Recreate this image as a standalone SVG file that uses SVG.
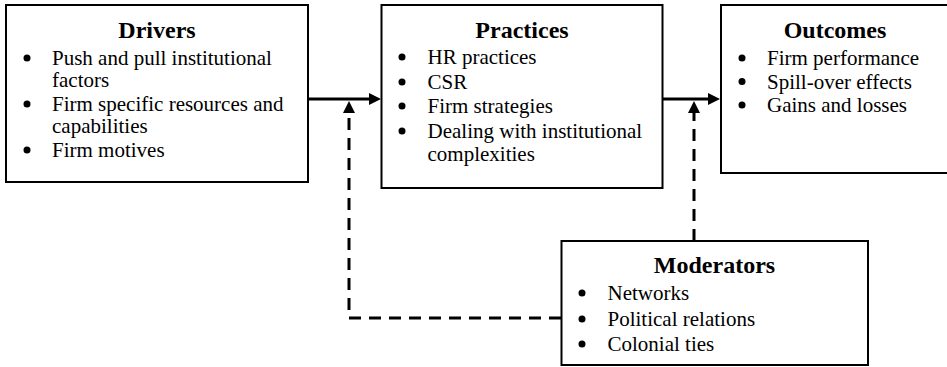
<svg xmlns="http://www.w3.org/2000/svg" width="947" height="367" viewBox="0 0 947 367">
<style>
  .box { fill: #ffffff; stroke: #000000; stroke-width: 2; }
  .title { font-family: "Liberation Serif", "Times New Roman", serif; font-size: 24px; font-weight: bold; text-anchor: middle; fill: #000000; }
  .item { font-family: "Liberation Serif", "Times New Roman", serif; font-size: 21px; fill: #000000; }
  .bullet { fill: #000000; }
  .solid { fill: none; stroke: #000000; stroke-width: 3; }
  .dashed { fill: none; stroke: #000000; stroke-width: 3; stroke-dasharray: 12 8; }
</style>
<defs>
  <marker id="arrow" markerUnits="userSpaceOnUse" markerWidth="13" markerHeight="12" refX="1" refY="6" orient="auto">
    <path d="M0,0 L12,6 L0,12 Z" fill="#000000"/>
  </marker>
</defs>
<rect width="947" height="367" fill="#ffffff"/>

<g id="connectors">
  <line class="solid" x1="308" y1="99" x2="370" y2="99" marker-end="url(#arrow)"/>
  <line class="solid" x1="662" y1="99" x2="709" y2="99" marker-end="url(#arrow)"/>
  <path class="dashed" d="M561,318 H349 V112" marker-end="url(#arrow)"/>
  <path class="dashed" d="M694,241 V112" marker-end="url(#arrow)"/>
</g>

<g id="drivers">
  <rect class="box" x="6" y="5" width="302" height="177"/>
  <text class="title" x="157" y="38">Drivers</text>
  <circle class="bullet" cx="27" cy="58" r="3.5"/>
  <text class="item" x="52" y="65">Push and pull institutional</text>
  <text class="item" x="52" y="87">factors</text>
  <circle class="bullet" cx="27" cy="104" r="3.5"/>
  <text class="item" x="52" y="111">Firm specific resources and</text>
  <text class="item" x="52" y="133">capabilities</text>
  <circle class="bullet" cx="27" cy="150" r="3.5"/>
  <text class="item" x="52" y="157">Firm motives</text>
</g>

<g id="practices">
  <rect class="box" x="381.5" y="5" width="281" height="183"/>
  <text class="title" x="522" y="38">Practices</text>
  <circle class="bullet" cx="402" cy="57" r="3.5"/>
  <text class="item" x="427.5" y="64">HR practices</text>
  <circle class="bullet" cx="402" cy="82" r="3.5"/>
  <text class="item" x="427.5" y="89">CSR</text>
  <circle class="bullet" cx="402" cy="106" r="3.5"/>
  <text class="item" x="427.5" y="113">Firm strategies</text>
  <circle class="bullet" cx="402" cy="131" r="3.5"/>
  <text class="item" x="427.5" y="138">Dealing with institutional</text>
  <text class="item" x="427.5" y="161">complexities</text>
</g>

<g id="outcomes">
  <rect class="box" x="721" y="5" width="230" height="168"/>
  <text class="title" x="835" y="38">Outcomes</text>
  <circle class="bullet" cx="742" cy="58" r="3.5"/>
  <text class="item" x="767" y="65">Firm performance</text>
  <circle class="bullet" cx="742" cy="81.5" r="3.5"/>
  <text class="item" x="767" y="88.5">Spill-over effects</text>
  <circle class="bullet" cx="742" cy="105" r="3.5"/>
  <text class="item" x="767" y="112">Gains and losses</text>
</g>

<g id="moderators">
  <rect class="box" x="561.5" y="241" width="306.5" height="124"/>
  <text class="title" x="714.5" y="273">Moderators</text>
  <circle class="bullet" cx="582" cy="293" r="3.5"/>
  <text class="item" x="607.5" y="300">Networks</text>
  <circle class="bullet" cx="582" cy="319" r="3.5"/>
  <text class="item" x="607.5" y="326">Political relations</text>
  <circle class="bullet" cx="582" cy="344" r="3.5"/>
  <text class="item" x="607.5" y="351">Colonial ties</text>
</g>
</svg>
